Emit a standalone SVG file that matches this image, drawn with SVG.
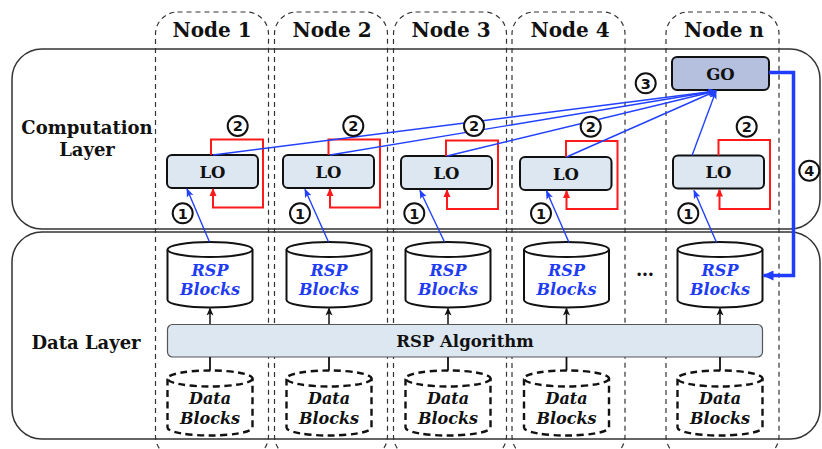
<svg xmlns="http://www.w3.org/2000/svg" width="822" height="449" viewBox="0 0 822 449">
  <style>
    .layer { fill: none; stroke: #333; stroke-width: 1.5; }
    .col { fill: none; stroke: #333; stroke-width: 1.2; stroke-dasharray: 5 4; }
    .hdr { font-family: "DejaVu Serif", serif; font-weight: bold; font-size: 20px; fill: #111; text-anchor: middle; }
    .lbl { font-family: "DejaVu Serif", serif; font-weight: bold; font-size: 18px; fill: #111; text-anchor: middle; }
    .box { font-family: "DejaVu Serif", serif; font-weight: bold; font-size: 16.5px; fill: #111; text-anchor: middle; }
    .lo { fill: #dde7f2; stroke: #111; stroke-width: 2; }
    .go { fill: #b4c0dd; stroke: #111; stroke-width: 2; }
    .bar { fill: #dde7f2; stroke: #555; stroke-width: 1.2; }
    .cyl { fill: #fff; stroke: #111; stroke-width: 2; }
    .dcyl { fill: #fff; stroke: #111; stroke-width: 2.4; stroke-dasharray: 7 4.5; }
    .rsp { font-family: "DejaVu Serif", serif; font-weight: bold; font-style: italic; font-size: 16px; fill: #1f3cf5; text-anchor: middle; }
    .dat { font-family: "DejaVu Serif", serif; font-weight: bold; font-style: italic; font-size: 16px; fill: #111; text-anchor: middle; }
    .num circle { fill: #fff; stroke: #111; stroke-width: 2; }
    .num text { font-family: "DejaVu Sans", sans-serif; font-weight: bold; font-size: 14.5px; fill: #111; text-anchor: middle; }
    .red { fill: none; stroke: #ff1a1a; stroke-width: 2; marker-end: url(#hRed); }
    .blue { fill: none; stroke: #2241ff; stroke-width: 1.4; marker-end: url(#hBlue); }
    .blk { fill: none; stroke: #111; stroke-width: 1.5; marker-end: url(#hBlk); }
    .thick { fill: none; stroke: #1f3cff; stroke-width: 3.5; marker-end: url(#hThick); }
  </style>
  <defs>
    <marker id="hRed" markerWidth="8" markerHeight="8" refX="7" refY="4" orient="auto" markerUnits="userSpaceOnUse">
      <path d="M0,0.5 L8,4 L0,7.5 Z" fill="#ff1a1a"/>
    </marker>
    <marker id="hBlue" markerWidth="9" markerHeight="8" refX="8" refY="4" orient="auto" markerUnits="userSpaceOnUse">
      <path d="M0,0.5 L9,4 L0,7.5 L2,4 Z" fill="#2241ff"/>
    </marker>
    <marker id="hBlk" markerWidth="8" markerHeight="8" refX="7" refY="4" orient="auto" markerUnits="userSpaceOnUse">
      <path d="M0,0.5 L8,4 L0,7.5 L2,4 Z" fill="#111"/>
    </marker>
    <marker id="hThick" markerWidth="12" markerHeight="10" refX="10" refY="5" orient="auto" markerUnits="userSpaceOnUse">
      <path d="M0,0 L11,5 L0,10 Z" fill="#1f3cff"/>
    </marker>
  </defs>

  <rect width="822" height="449" fill="#fff"/>

  <!-- layers -->
  <g id="computation-layer">
    <rect class="layer" x="12" y="49" width="808" height="180" rx="30"/>
    <text class="lbl" x="87" y="134">Computation</text>
    <text class="lbl" x="87" y="156">Layer</text>
  </g>
  <g id="data-layer">
    <rect class="layer" x="12" y="232" width="808" height="207" rx="30"/>
    <text class="lbl" x="86" y="349">Data Layer</text>
  </g>

  <!-- node columns -->
  <g id="columns">
    <rect class="col" x="155.5" y="12" width="113" height="446" rx="22"/>
    <rect class="col" x="274.5" y="12" width="113" height="446" rx="22"/>
    <rect class="col" x="393.5" y="12" width="113" height="446" rx="22"/>
    <rect class="col" x="512" y="12" width="113" height="446" rx="22"/>
    <rect class="col" x="666" y="12" width="113" height="446" rx="22"/>
    <text class="hdr" x="212" y="37">Node 1</text>
    <text class="hdr" x="332" y="37">Node 2</text>
    <text class="hdr" x="451" y="37">Node 3</text>
    <text class="hdr" x="570" y="37">Node 4</text>
    <text class="hdr" x="724" y="37">Node n</text>
  </g>

  <!-- shared RSP algorithm bar -->
  <g id="rsp-algorithm">
    <rect class="bar" x="167.5" y="324.5" width="595" height="32.5" rx="5"/>
    <text class="box" x="465" y="347" font-size="17">RSP Algorithm</text>
  </g>

  <g id="node1">
    <rect class="lo" x="167" y="155" width="91" height="33" rx="5"/>
    <text class="box" x="212.5" y="177.5">LO</text>
    <path class="cyl" d="M167.5,249.5 V300 A42.5,7.5 0 0 0 252.5,300 V249.5"/>
    <ellipse class="cyl" cx="210" cy="249.5" rx="42.5" ry="7.5"/>
    <text class="rsp" x="210" y="276">RSP</text>
    <text class="rsp" x="210" y="295">Blocks</text>
    <path class="dcyl" d="M167.5,378.5 V427.5 A42.5,8 0 0 0 252.5,427.5 V378.5"/>
    <ellipse class="dcyl" cx="210" cy="378.5" rx="42.5" ry="8"/>
    <text class="dat" x="210" y="404">Data</text>
    <text class="dat" x="210" y="424">Blocks</text>
  </g>

  <g id="node2">
    <rect class="lo" x="283" y="155" width="91" height="33" rx="5"/>
    <text class="box" x="328.5" y="177.5">LO</text>
    <path class="cyl" d="M286.5,249.5 V300 A42.5,7.5 0 0 0 371.5,300 V249.5"/>
    <ellipse class="cyl" cx="329" cy="249.5" rx="42.5" ry="7.5"/>
    <text class="rsp" x="329" y="276">RSP</text>
    <text class="rsp" x="329" y="295">Blocks</text>
    <path class="dcyl" d="M286.5,378.5 V427.5 A42.5,8 0 0 0 371.5,427.5 V378.5"/>
    <ellipse class="dcyl" cx="329" cy="378.5" rx="42.5" ry="8"/>
    <text class="dat" x="329" y="404">Data</text>
    <text class="dat" x="329" y="424">Blocks</text>
  </g>

  <g id="node3">
    <rect class="lo" x="401" y="156" width="91" height="33" rx="5"/>
    <text class="box" x="446.5" y="178.5">LO</text>
    <path class="cyl" d="M405.5,249.5 V300 A42.5,7.5 0 0 0 490.5,300 V249.5"/>
    <ellipse class="cyl" cx="448" cy="249.5" rx="42.5" ry="7.5"/>
    <text class="rsp" x="448" y="276">RSP</text>
    <text class="rsp" x="448" y="295">Blocks</text>
    <path class="dcyl" d="M405.5,378.5 V427.5 A42.5,8 0 0 0 490.5,427.5 V378.5"/>
    <ellipse class="dcyl" cx="448" cy="378.5" rx="42.5" ry="8"/>
    <text class="dat" x="448" y="404">Data</text>
    <text class="dat" x="448" y="424">Blocks</text>
  </g>

  <g id="node4">
    <rect class="lo" x="520" y="157" width="91.5" height="33" rx="5"/>
    <text class="box" x="566" y="179.5">LO</text>
    <path class="cyl" d="M524,249.5 V300 A42.5,7.5 0 0 0 609,300 V249.5"/>
    <ellipse class="cyl" cx="566.5" cy="249.5" rx="42.5" ry="7.5"/>
    <text class="rsp" x="566.5" y="276">RSP</text>
    <text class="rsp" x="566.5" y="295">Blocks</text>
    <path class="dcyl" d="M524,378.5 V427.5 A42.5,8 0 0 0 609,427.5 V378.5"/>
    <ellipse class="dcyl" cx="566.5" cy="378.5" rx="42.5" ry="8"/>
    <text class="dat" x="566.5" y="404">Data</text>
    <text class="dat" x="566.5" y="424">Blocks</text>
  </g>

  <g id="ellipsis">
    <text class="lbl" x="645" y="276">…</text>
  </g>

  <g id="noden">
    <rect class="go" x="672" y="57" width="97" height="33" rx="5"/>
    <text class="box" x="720.5" y="79.5">GO</text>
    <rect class="lo" x="673" y="155.5" width="91" height="33" rx="5"/>
    <text class="box" x="718.5" y="178">LO</text>
    <path class="cyl" d="M677.5,249.5 V300 A42.5,7.5 0 0 0 762.5,300 V249.5"/>
    <ellipse class="cyl" cx="720" cy="249.5" rx="42.5" ry="7.5"/>
    <text class="rsp" x="720" y="276">RSP</text>
    <text class="rsp" x="720" y="295">Blocks</text>
    <path class="dcyl" d="M677.5,378.5 V427.5 A42.5,8 0 0 0 762.5,427.5 V378.5"/>
    <ellipse class="dcyl" cx="720" cy="378.5" rx="42.5" ry="8"/>
    <text class="dat" x="720" y="404">Data</text>
    <text class="dat" x="720" y="424">Blocks</text>
  </g>

  <!-- connectors -->
  <g id="connectors">
    <!-- RSP algorithm feeds each block store -->
    <path class="blk" d="M210,324 V308.5"/>
    <path class="blk" d="M329,324 V308.5"/>
    <path class="blk" d="M448,324 V308.5"/>
    <path class="blk" d="M566.5,324 V308.5"/>
    <path class="blk" d="M720,324 V308.5"/>
    <!-- data blocks into the algorithm -->
    <path d="M210,357 V370.5 M329,357 V370.5 M448,357 V370.5 M566.5,357 V370.5 M720,357 V370.5" stroke="#111" stroke-width="1.8" fill="none"/>

    <!-- (1) block stores to local operators -->
    <path class="blue" d="M209.5,242 L187,189"/>
    <path class="blue" d="M328.5,242 L305,189.5"/>
    <path class="blue" d="M444.5,242 L420,190.5"/>
    <path class="blue" d="M569,242.5 L546.5,191"/>
    <path class="blue" d="M716.5,242.5 L694,190.5"/>

    <!-- (2) local iteration loops -->
    <path class="red" d="M211,155 V139.5 H263 V207.5 H213 V189"/>
    <path class="red" d="M328.5,155 V139.5 H380 V207.5 H330 V189"/>
    <path class="red" d="M446,156 V140.5 H498 V209 H447 V190"/>
    <path class="red" d="M566,157 V141 H617.5 V209 H566.5 V191"/>
    <path class="red" d="M718.5,155.5 V140 H770 V209 H719.5 V189.5"/>

    <!-- (3) local results to the global operator -->
    <path class="blue" d="M213,155 L716,91"/>
    <path class="blue" d="M330,155 L716,91"/>
    <path class="blue" d="M447,156 L716,91"/>
    <path class="blue" d="M566.5,157 L716,91"/>
    <path class="blue" d="M692,155.5 L716,91"/>

    <!-- (4) global result back to the block store -->
    <path class="thick" d="M769,72.5 H793.5 V275.5 H763.5"/>
  </g>

  <!-- step markers -->
  <g id="steps" class="num">
    <circle cx="182.7" cy="213.3" r="10"/><text x="182.7" y="218.5">1</text>
    <circle cx="300" cy="213.3" r="10"/><text x="300" y="218.5">1</text>
    <circle cx="414.3" cy="213.3" r="10"/><text x="414.3" y="218.5">1</text>
    <circle cx="541" cy="213.3" r="10"/><text x="541" y="218.5">1</text>
    <circle cx="688.3" cy="213.3" r="10"/><text x="688.3" y="218.5">1</text>
    <circle cx="237.7" cy="126" r="10"/><text x="237.7" y="131.2">2</text>
    <circle cx="353.3" cy="126" r="10"/><text x="353.3" y="131.2">2</text>
    <circle cx="474" cy="126" r="10"/><text x="474" y="131.2">2</text>
    <circle cx="590.7" cy="126.7" r="10"/><text x="590.7" y="131.9">2</text>
    <circle cx="746.7" cy="126.7" r="10"/><text x="746.7" y="131.9">2</text>
    <circle cx="645.7" cy="83.3" r="10"/><text x="645.7" y="88.5">3</text>
    <circle cx="809.3" cy="170.7" r="10"/><text x="809.3" y="175.9">4</text>
  </g>
</svg>
